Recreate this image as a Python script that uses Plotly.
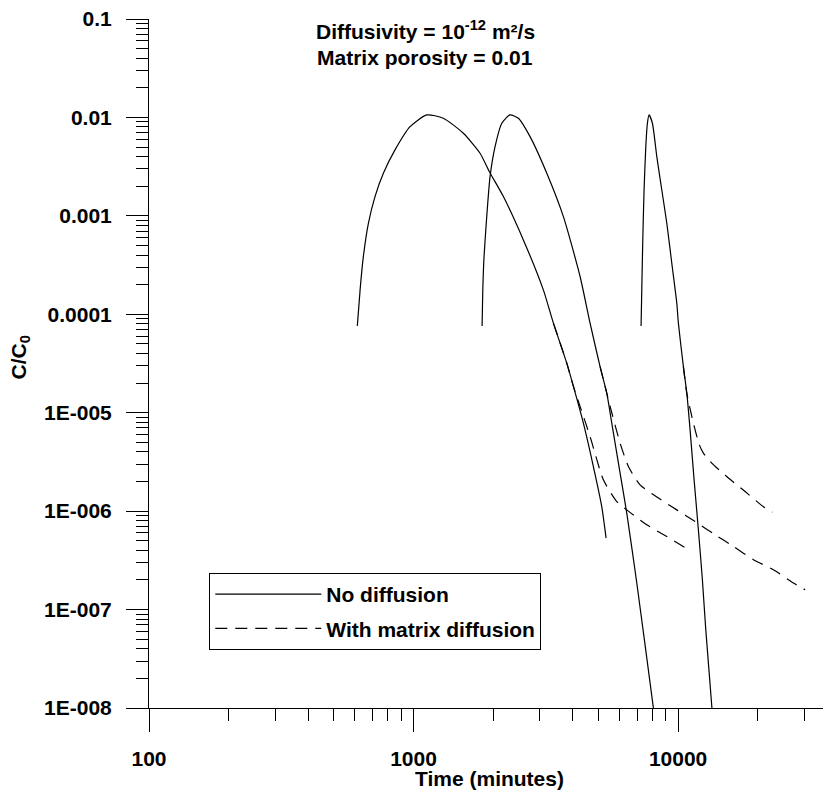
import plotly.graph_objects as go

# ---------------- data ----------------
# Curve 1 (peak near 1100 min)
t1_solid = [613, 628, 646, 675, 715, 769, 851, 970, 1122, 1296, 1543, 1784, 1935,
            2186, 2601, 3095, 3378, 3795, 4021, 4385, 4784, 5146, 5343]
c1_solid = [7.62e-5, 1.77e-4, 3.85e-4, 8.41e-4, 1.57e-3, 2.71e-3, 4.68e-3, 8.05e-3,
            1.06e-2, 9.81e-3, 6.9e-3, 4.33e-3, 2.81e-3, 1.57e-3, 5.7e-4, 1.77e-4,
            8.13e-5, 3.19e-5, 1.85e-5, 7.83e-6, 2.84e-6, 1.11e-6, 5.32e-7]
t1_diff = [3378, 3795, 4021, 4261, 4648, 5219, 5866, 6397, 7615, 9064, 10693]
c1_diff = [8.13e-5, 3.19e-5, 1.85e-5, 1.16e-5, 5.73e-6, 2.08e-6, 1.25e-6, 1.03e-6,
           7.27e-7, 5.52e-7, 4.22e-7]

# Curve 2 (peak near 2300 min)
t2_solid = [1816, 1827, 1847, 1891, 1946, 2033, 2156, 2316, 2490, 2757, 3189, 3685,
            4261, 4648, 5071, 5375, 5615, 6036, 6397, 6981, 8066, 8180]
c2_solid = [7.62e-5, 1.77e-4, 3.85e-4, 9.82e-4, 2.5e-3, 5.05e-3, 8.73e-3, 1.06e-2,
            9.81e-3, 6.38e-3, 2.71e-3, 9.82e-4, 2.42e-4, 8.13e-5, 2.94e-5, 1.58e-5,
            7.83e-6, 2.43e-6, 9.55e-7, 1.86e-7, 1.0e-8, 7.6e-9]
t2_diff = [5071, 5375, 5534, 6036, 6490, 7181, 8424, 9887, 11596, 13801, 16187,
           19264, 22929, 27290, 30220]
c2_diff = [2.94e-5, 1.58e-5, 1.16e-5, 4.91e-6, 2.84e-6, 1.85e-6, 1.36e-6, 1.03e-6,
           7.85e-7, 5.75e-7, 4.38e-7, 3.21e-7, 2.54e-7, 1.86e-7, 1.59e-7]

# Curve 3 (peak near 7700 min)
t3_solid = [7245, 7290, 7354, 7437, 7550, 7656, 7770, 7996, 8308, 8678, 9064, 9467,
            9887, 10025, 10471, 10786, 11101, 11495, 11931, 12355, 12726, 13408, 13502]
c3_solid = [7.62e-5, 1.77e-4, 5.7e-4, 1.83e-3, 5.05e-3, 8.73e-3, 1.06e-2, 8.73e-3,
            4.0e-3, 1.83e-3, 8.41e-4, 3.30e-4, 1.30e-4, 8.13e-5, 2.94e-5, 1.58e-5,
            6.7e-6, 2.08e-6, 6.48e-7, 2.01e-7, 6.24e-8, 1.04e-8, 7.6e-9]
t3_diff = [10471, 10786, 11425, 12035, 12463, 13408, 15497, 17922, 21014, 22726]
c3_diff = [2.94e-5, 1.58e-5, 7.83e-6, 4.72e-6, 3.89e-6, 3.08e-6, 2.17e-6, 1.58e-6,
           1.11e-6, 9.77e-7]

x_tickvals = [100, 1000, 10000]
x_ticktext = ["100", "1000", "10000"]
y_tickvals = [0.1, 0.01, 0.001, 0.0001, 1e-5, 1e-6, 1e-7, 1e-8]
y_ticktext = ["0.1", "0.01", "0.001", "0.0001", "1E-005", "1E-006", "1E-007", "1E-008"]

legend_names = ["No diffusion", "With matrix diffusion"]
x_title = "Time (minutes)"
y_title = "C/C<sub>0</sub>"
note_lines = ["Diffusivity = 10<sup>-12</sup> m²/s", "Matrix porosity = 0.01"]

# ---------------- figure ----------------
FONT = "Liberation Sans, Arial, sans-serif"
FS = 21
bold = dict(family=FONT, size=FS, color="black", weight="bold")

solid_sets = [(t1_solid, c1_solid), (t2_solid, c2_solid), (t3_solid, c3_solid)]
diff_sets = [(t1_diff, c1_diff), (t2_diff, c2_diff), (t3_diff, c3_diff)]

fig = go.Figure()
for i, (t, c) in enumerate(solid_sets):
    fig.add_trace(go.Scatter(
        x=t, y=c, mode="lines", name=legend_names[0], legendgroup="a",
        showlegend=(i == 0),
        line=dict(color="black", width=1.2, shape="spline", smoothing=0.6)))
for i, (t, c) in enumerate(diff_sets):
    fig.add_trace(go.Scatter(
        x=t, y=c, mode="lines", name=legend_names[1], legendgroup="b",
        showlegend=(i == 0),
        line=dict(color="black", width=1.2, dash="12px,8px", shape="spline", smoothing=0.6)))

dec_minor_x = [m * 10 ** e for e in (2, 3, 4) for m in range(2, 10)]
dec_minor_y = [m * 10.0 ** e for e in range(-8, -1) for m in range(2, 10)]

axis_common = dict(
    type="log", showline=True, linecolor="black", linewidth=1, mirror=False,
    showgrid=False, zeroline=False, ticks="outside", tickwidth=1, tickcolor="black",
    tickmode="array", automargin=False, tickfont=bold, ticklabeloverflow="allow",
)

fig.update_xaxes(
    **axis_common, range=[2, 4.578], tickvals=x_tickvals, ticktext=x_ticktext,
    ticklen=23, ticklabelstandoff=9,
    minor=dict(ticks="outside", ticklen=12, tickwidth=1, tickcolor="black",
               tickmode="array", tickvals=dec_minor_x, showgrid=False),
)
fig.update_yaxes(
    **axis_common, range=[-8, -1], tickvals=y_tickvals, ticktext=y_ticktext,
    ticklen=22, ticklabelstandoff=10,
    minor=dict(ticks="outside", ticklen=12, tickwidth=1, tickcolor="black",
               tickmode="array", tickvals=dec_minor_y, showgrid=False),
)

# axis titles
fig.add_annotation(xref="paper", yref="paper", x=0.499, y=-0.1026, text=x_title,
                   showarrow=False, xanchor="center", yanchor="middle", font=bold)
fig.add_annotation(xref="paper", yref="paper", x=-0.189, y=0.509, text=y_title,
                   showarrow=False, xanchor="center", yanchor="middle", textangle=-90,
                   font=bold)

# note
fig.add_annotation(xref="paper", yref="paper", x=0.4047, y=0.9835,
                   text=note_lines[0], showarrow=False,
                   xanchor="center", yanchor="middle", font=bold)
fig.add_annotation(xref="paper", yref="paper", x=0.4047, y=0.944,
                   text=note_lines[1], showarrow=False,
                   xanchor="center", yanchor="middle", font=bold)

# the page body adds an 8 px offset, so margins are shifted to compensate
fig.update_layout(
    width=831, height=794,
    margin=dict(l=141, r=8, t=11, b=94, pad=0, autoexpand=False),
    paper_bgcolor="white", plot_bgcolor="white",
    font=bold,
    showlegend=True,
    legend=dict(x=0.0884, y=0.1959, xanchor="left", yanchor="top",
                bgcolor="white", bordercolor="black", borderwidth=1,
                itemwidth=106, tracegroupgap=4, font=bold),
)

fig.write_html("out.html")
